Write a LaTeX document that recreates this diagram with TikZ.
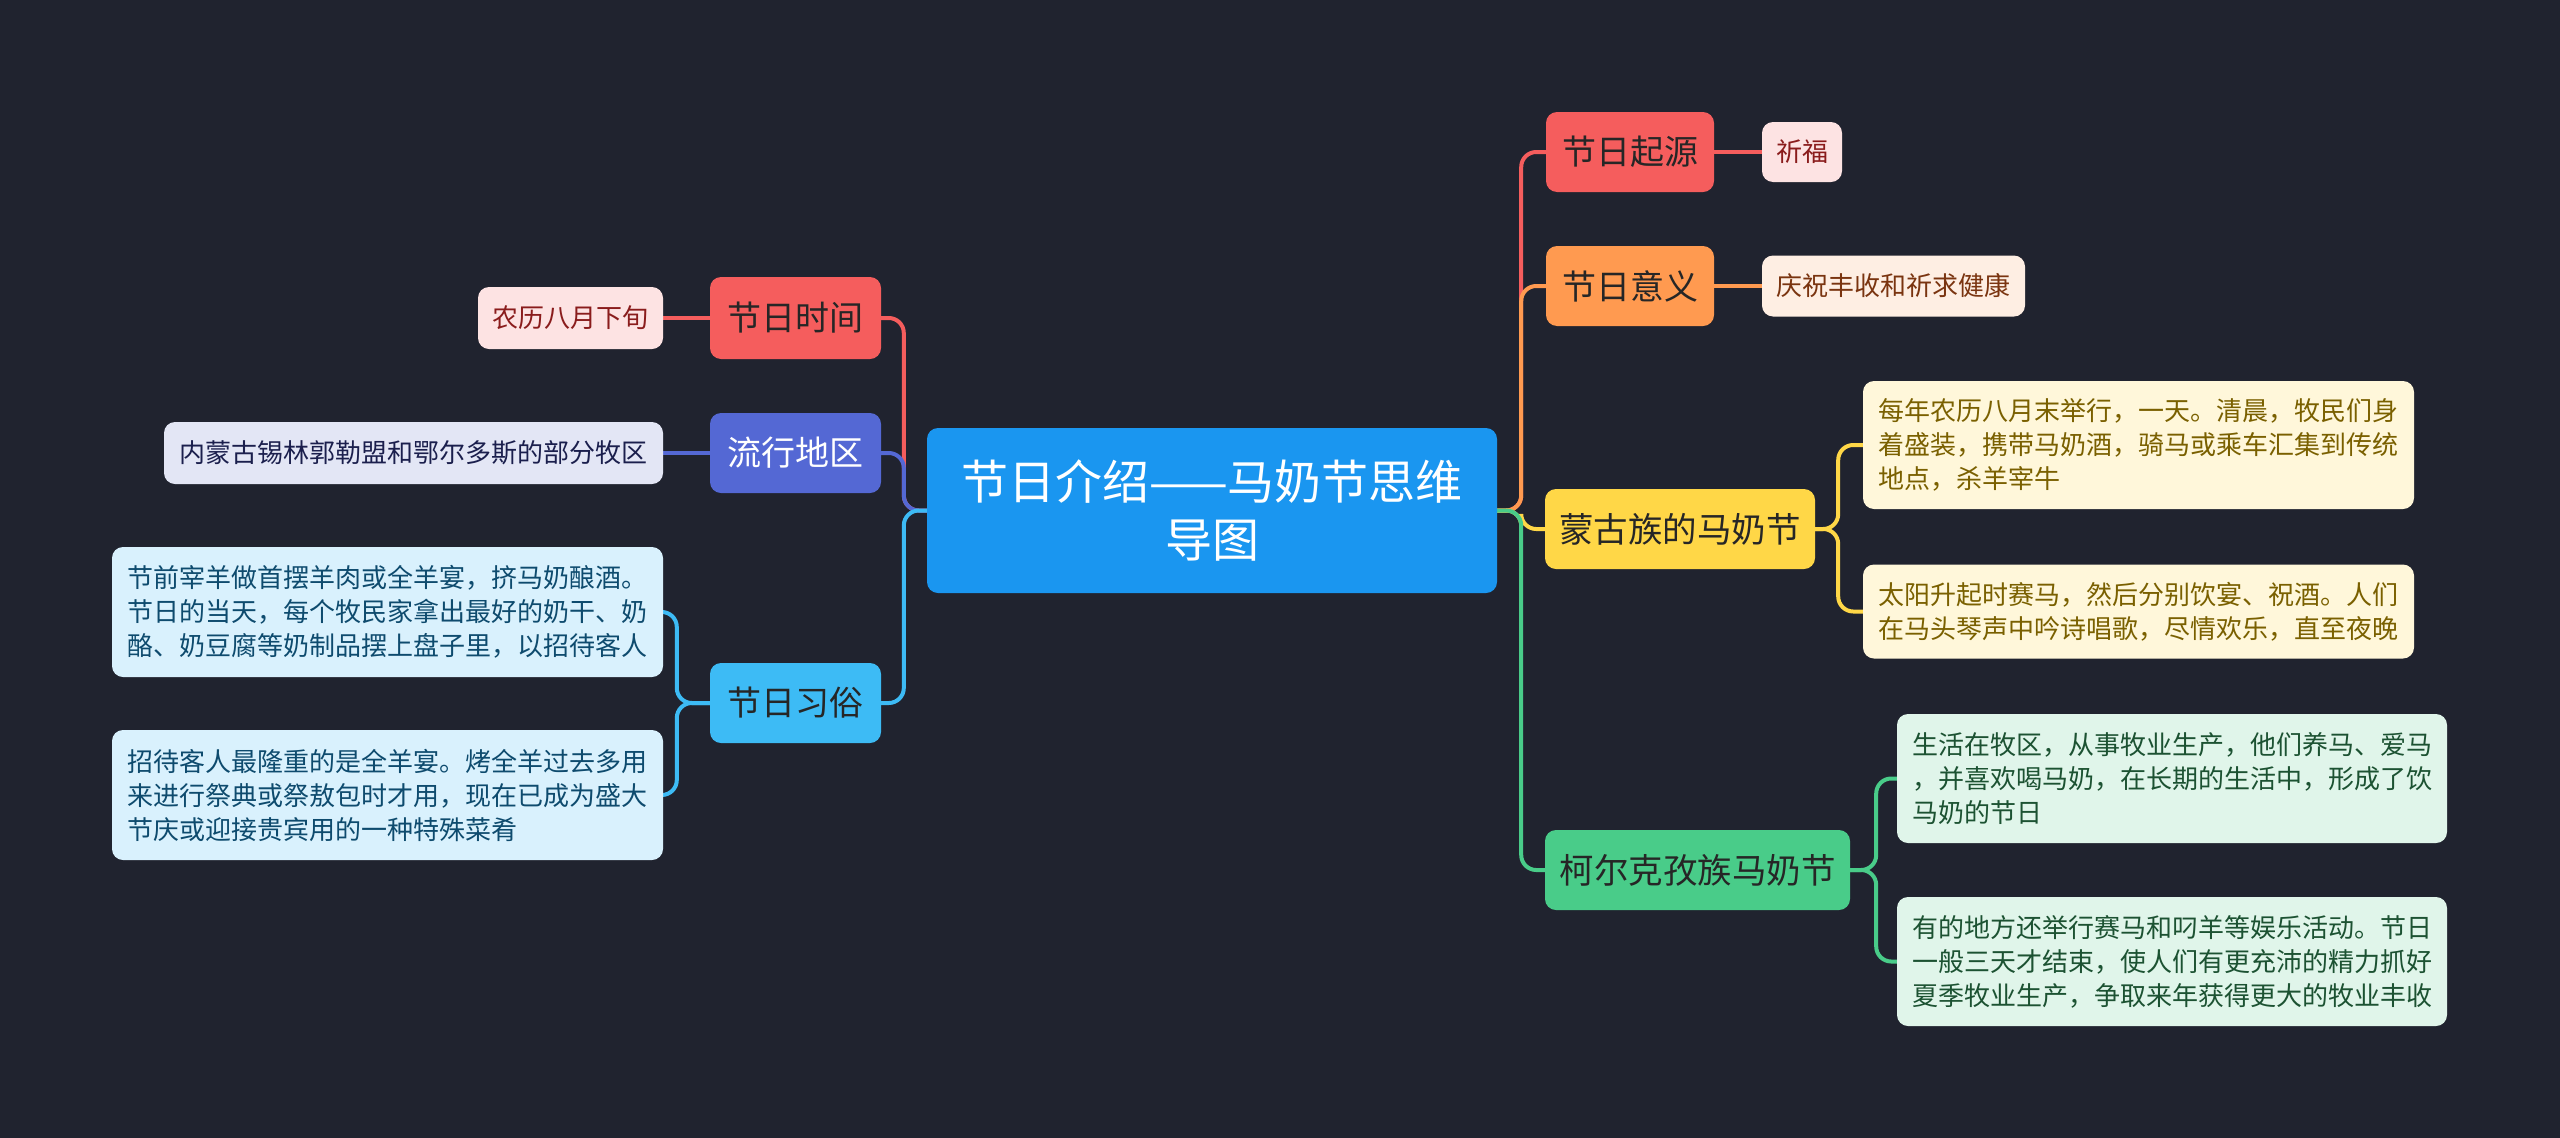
\documentclass[tikz,border=0pt]{standalone}
\usepackage{fontspec}
\setmainfont{Noto Sans CJK SC}
\pgfdeclarelayer{back}
\pgfdeclarelayer{lines}
\pgfsetlayers{back,lines,main}
\definecolor{bg}{HTML}{20232F}
\definecolor{cmain}{HTML}{1A96F0}
\definecolor{cred}{HTML}{F55D5D}
\definecolor{credl}{HTML}{FDE3E3}
\definecolor{credt}{HTML}{8A1C1C}
\definecolor{corg}{HTML}{FF9A50}
\definecolor{corgl}{HTML}{FEEEE3}
\definecolor{corgt}{HTML}{7A3410}
\definecolor{cyel}{HTML}{FFD747}
\definecolor{cyell}{HTML}{FFF7DA}
\definecolor{cyelt}{HTML}{7A6000}
\definecolor{cgrn}{HTML}{49CC89}
\definecolor{cgrnl}{HTML}{E0F5EA}
\definecolor{cgrnt}{HTML}{1C5232}
\definecolor{cind}{HTML}{5468D4}
\definecolor{cindl}{HTML}{E3E6F5}
\definecolor{cindt}{HTML}{1B1F4D}
\definecolor{csky}{HTML}{3DBBF5}
\definecolor{cskyl}{HTML}{D9F1FD}
\definecolor{cskyt}{HTML}{0E4B6E}
\definecolor{dtext}{HTML}{262626}
\tikzset{
  box/.style={rounded corners=11pt, inner sep=0pt, align=center},
  branch/.style={box, minimum height=80pt, text=dtext, font=\fontsize{34}{40}\selectfont},
  bigbranch/.style={branch, font=\fontsize{34.5}{40}\selectfont},
  leaf/.style={box, align=left, font=\fontsize{26}{34}\selectfont, minimum height=61pt},
  conn/.style={line width=4pt, rounded corners=15pt},
}
\begin{document}
\begin{tikzpicture}[x=1pt,y=-1pt]
\begin{pgfonlayer}{back}
\fill[bg] (0,0) rectangle (2560,1138);
\end{pgfonlayer}
\useasboundingbox (0,0) rectangle (2560,1138);

% central
\node[box, fill=cmain, text=white, minimum width=570pt, minimum height=165pt,
  font=\fontsize{47}{58}\selectfont] (c) at (1212,510.5) {节日介绍——马奶节思维\\导图};

% right branches
\node[branch, fill=cred, minimum width=168pt] (r1) at (1630,152) {节日起源};
\node[leaf, fill=credl, text=credt, minimum width=80pt, minimum height=60pt] (r1a) at (1802,152) {祈福};
\node[branch, fill=corg, minimum width=168pt] (r2) at (1630,286) {节日意义};
\node[leaf, fill=corgl, text=corgt, minimum width=263pt] (r2a) at (1893.5,286) {庆祝丰收和祈求健康};
\node[bigbranch, fill=cyel, minimum width=270pt] (r3) at (1680,529) {蒙古族的马奶节};
\node[leaf, fill=cyell, text=cyelt, minimum width=551pt, minimum height=128pt] (r3a) at (2138.5,445)
  {每年农历八月末举行，一天。清晨，牧民们身\\着盛装，携带马奶酒，骑马或乘车汇集到传统\\地点，杀羊宰牛};
\node[leaf, fill=cyell, text=cyelt, minimum width=551pt, minimum height=94pt] (r3b) at (2138.5,611.5)
  {太阳升起时赛马，然后分别饮宴、祝酒。人们\\在马头琴声中吟诗唱歌，尽情欢乐，直至夜晚};
\node[bigbranch, fill=cgrn, minimum width=305pt] (r4) at (1697.5,870) {柯尔克孜族马奶节};
\node[leaf, fill=cgrnl, text=cgrnt, minimum width=550pt, minimum height=129pt] (r4a) at (2172,778.5)
  {生活在牧区，从事牧业生产，他们养马、爱马\\，并喜欢喝马奶，在长期的生活中，形成了饮\\马奶的节日};
\node[leaf, fill=cgrnl, text=cgrnt, minimum width=550pt, minimum height=129pt] (r4b) at (2172,961.5)
  {有的地方还举行赛马和叼羊等娱乐活动。节日\\一般三天才结束，使人们有更充沛的精力抓好\\夏季牧业生产，争取来年获得更大的牧业丰收};

% left branches
\node[branch, fill=cred, minimum width=171pt, minimum height=82pt] (l1) at (795.5,318) {节日时间};
\node[leaf, fill=credl, text=credt, minimum width=185pt, minimum height=62pt] (l1a) at (570.5,318) {农历八月下旬};
\node[branch, fill=cind, text=white, minimum width=171pt] (l2) at (795.5,453) {流行地区};
\node[leaf, fill=cindl, text=cindt, minimum width=499pt, minimum height=62pt] (l2a) at (413.5,453) {内蒙古锡林郭勒盟和鄂尔多斯的部分牧区};
\node[branch, fill=csky, minimum width=171pt] (l3) at (795.5,703) {节日习俗};
\node[leaf, fill=cskyl, text=cskyt, minimum width=551pt, minimum height=130pt] (l3a) at (387.5,612)
  {节前宰羊做首摆羊肉或全羊宴，挤马奶酿酒。\\节日的当天，每个牧民家拿出最好的奶干、奶\\酪、奶豆腐等奶制品摆上盘子里，以招待客人};
\node[leaf, fill=cskyl, text=cskyt, minimum width=551pt, minimum height=130pt] (l3b) at (387.5,795)
  {招待客人最隆重的是全羊宴。烤全羊过去多用\\来进行祭典或祭敖包时才用，现在已成为盛大\\节庆或迎接贵宾用的一种特殊菜肴};

% connectors
\begin{pgfonlayer}{lines}
\draw[conn, cred] (c.east) -- ++(24,0) |- (r1.west);
\draw[conn, corg] (c.east) -- ++(24,0) |- (r2.west);
\draw[conn, cyel] (c.east) -- ++(24,0) |- (r3.west);
\draw[conn, cgrn] (c.east) -- ++(24,0) |- (r4.west);
\draw[conn, cred] (r1.east) -- (r1a.west);
\draw[conn, corg] (r2.east) -- (r2a.west);
\draw[conn, cyel] (r3.east) -- ++(23,0) |- (r3a.west);
\draw[conn, cyel] (r3.east) -- ++(23,0) |- (r3b.west);
\draw[conn, cgrn] (r4.east) -- ++(26,0) |- (r4a.west);
\draw[conn, cgrn] (r4.east) -- ++(26,0) |- (r4b.west);
\draw[conn, cred] (c.west) -- ++(-23,0) |- (l1.east);
\draw[conn, cind] (c.west) -- ++(-23,0) |- (l2.east);
\draw[conn, csky] (c.west) -- ++(-23,0) |- (l3.east);
\draw[conn, cred] (l1.west) -- (l1a.east);
\draw[conn, cind] (l2.west) -- (l2a.east);
\draw[conn, csky] (l3.west) -- ++(-33,0) |- (l3a.east);
\draw[conn, csky] (l3.west) -- ++(-33,0) |- (l3b.east);
\end{pgfonlayer}
\end{tikzpicture}
\end{document}
